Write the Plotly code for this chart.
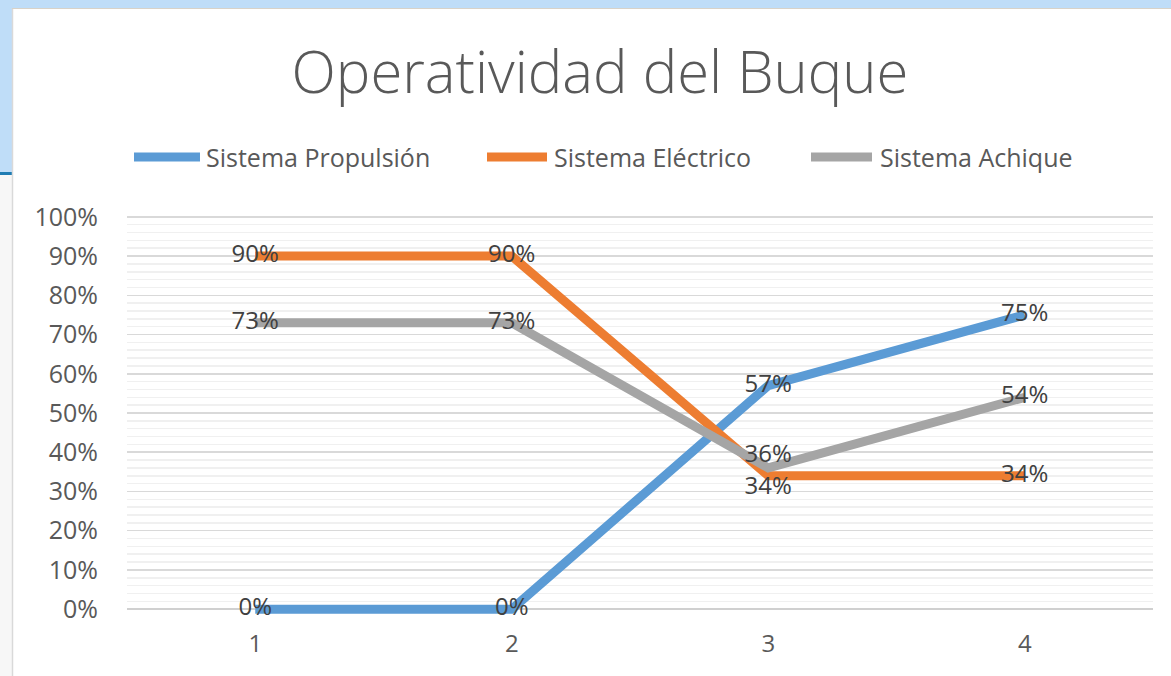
import plotly.graph_objects as go

categories = [1, 2, 3, 4]
propulsion = [0.00, 0.00, 0.57, 0.75]
electrico = [0.90, 0.90, 0.34, 0.34]
achique = [0.73, 0.73, 0.36, 0.54]
series_names = ["Sistema Propulsión", "Sistema Eléctrico", "Sistema Achique"]
y_ticks = [0, 0.1, 0.2, 0.3, 0.4, 0.5, 0.6, 0.7, 0.8, 0.9, 1.0]
y_ticklabels = ["0%", "10%", "20%", "30%", "40%", "50%", "60%", "70%", "80%", "90%", "100%"]

colors = ["#5B9BD5", "#ED7D31", "#A5A5A5"]
FONT = "Open Sans"

W, H = 1171, 676
L, R, T, B = 127, 18, 209, 59
pw, ph = W - L - R, H - T - B


def px_x(x):
    return (x - L) / pw


def px_y(y):
    return (H - B - y) / ph


fig = go.Figure()
all_series = [propulsion, electrico, achique]
for name, vals, col in zip(series_names, all_series, colors):
    positions = ["middle center"] * len(vals)
    if name == "Sistema Achique":
        positions[2] = "top center"
    if name == "Sistema Eléctrico":
        positions[2] = "bottom center"
    fig.add_trace(go.Scatter(
        x=categories, y=vals, name=name, mode="lines+text",
        line=dict(color=col, width=9),
        text=[f"{round(v*100)}%" for v in vals],
        textposition=positions,
        textfont=dict(family=FONT, size=24, color="#404040"),
        cliponaxis=False, showlegend=False, hoverinfo="skip",
    ))

shapes = [
    dict(type="rect", xref="paper", yref="paper", x0=px_x(0), x1=px_x(W), y0=px_y(8), y1=px_y(0),
         fillcolor="#BFDDF8", line_width=0, layer="below"),
    dict(type="rect", xref="paper", yref="paper", x0=px_x(0), x1=px_x(12), y0=px_y(172), y1=px_y(0),
         fillcolor="#BFDDF8", line_width=0, layer="below"),
    dict(type="rect", xref="paper", yref="paper", x0=px_x(0), x1=px_x(12), y0=px_y(175), y1=px_y(172),
         fillcolor="#1F7CB3", line_width=0, layer="below"),
    dict(type="rect", xref="paper", yref="paper", x0=px_x(0), x1=px_x(12), y0=px_y(H), y1=px_y(175),
         fillcolor="#F7F7F7", line_width=0, layer="below"),
    dict(type="line", xref="paper", yref="paper", x0=px_x(12.5), x1=px_x(12.5), y0=px_y(H), y1=px_y(8),
         line=dict(color="#D9D9D9", width=1.5), layer="below"),
    dict(type="line", xref="paper", yref="paper", x0=px_x(12), x1=px_x(W), y0=px_y(8.5), y1=px_y(8.5),
         line=dict(color="#D8D2C8", width=1), layer="below"),
]

# manual legend (line samples + labels)
legend_line_x = [(134, 200), (487, 547), (811, 872)]
legend_text_x = [204, 552, 878]
legend_y = 157
annotations = []
for name, col, (lx0, lx1), tx in zip(series_names, colors, legend_line_x, legend_text_x):
    shapes.append(dict(type="line", xref="paper", yref="paper",
                       x0=px_x(lx0), x1=px_x(lx1), y0=px_y(legend_y), y1=px_y(legend_y),
                       line=dict(color=col, width=9)))
    annotations.append(dict(text=name, xref="paper", yref="paper", x=px_x(tx), y=px_y(legend_y),
                            xanchor="left", yanchor="middle", showarrow=False,
                            font=dict(family=FONT, size=25, color="#595959")))

fig.update_layout(
    width=W, height=H,
    margin=dict(l=L, r=R, t=T, b=B, autoexpand=False),
    paper_bgcolor="white", plot_bgcolor="white",
    title=dict(text="Operatividad del Buque", xref="container", x=600/W, xanchor="center",
               yref="container", y=1 - 73/H, yanchor="middle",
               font=dict(family=FONT, size=58, color="#595959", weight=300)),
    showlegend=False,
    shapes=shapes,
    annotations=annotations,
    xaxis=dict(range=[0.5, 4.5], tickvals=categories, ticktext=[str(c) for c in categories],
               showgrid=False, zeroline=False, showline=False, ticks="",
               tickfont=dict(family=FONT, size=24, color="#595959"), ticklabelstandoff=10),
    yaxis=dict(range=[-0.02, 1.02], tickvals=y_ticks, ticktext=y_ticklabels,
               showgrid=True, gridcolor="#D9D9D9", gridwidth=1.5,
               zeroline=True, zerolinecolor="#D0D0D0", zerolinewidth=2,
               minor=dict(dtick=0.02, showgrid=True, gridcolor="#F0F0F0", gridwidth=1.5),
               showline=False, ticks="",
               tickfont=dict(family=FONT, size=25, color="#595959"), ticklabelstandoff=28),
)

fig.write_html("out.html", config={"displayModeBar": False, "staticPlot": True},
               post_script="document.body.style.margin='0';document.body.style.overflow='hidden';")
